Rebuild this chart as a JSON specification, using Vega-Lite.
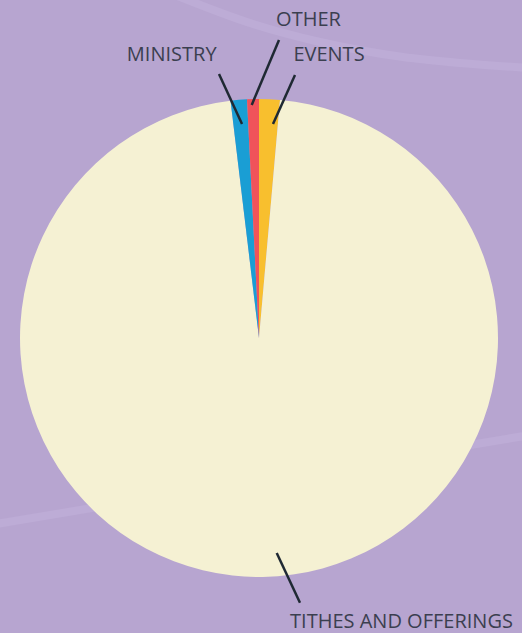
{
  "$schema": "https://vega.github.io/schema/vega-lite/v6.json",
  "width": 522,
  "height": 633,
  "padding": 0,
  "autosize": {"type": "none"},
  "background": "#b7a5d0",
  "config": {"view": {"stroke": null}},
  "datasets": {
    "slices": [
      {"category": "EVENTS", "value": 1.4, "ord": 1},
      {"category": "TITHES AND OFFERINGS", "value": 96.7, "ord": 2},
      {"category": "MINISTRY", "value": 1.1, "ord": 3},
      {"category": "OTHER", "value": 0.8, "ord": 4}
    ],
    "bands": [
      {"band": "top", "i": 1, "bx": -0.3515, "by": 1.4351},
      {"band": "top", "i": 2, "bx": -0.0251, "by": 1.3138},
      {"band": "top", "i": 3, "bx": 0.2552, "by": 1.2385},
      {"band": "top", "i": 4, "bx": 0.6025, "by": 1.1757},
      {"band": "top", "i": 5, "bx": 0.841, "by": 1.1506},
      {"band": "top", "i": 6, "bx": 1.1339, "by": 1.1297},
      {"band": "bottom", "i": 1, "bx": -1.1255, "by": -0.7824},
      {"band": "bottom", "i": 2, "bx": 1.1339, "by": -0.4059}
    ],
    "leaders": [
      {"category": "MINISTRY", "x1": -0.0711, "y1": 0.8954, "x2": -0.1674, "y2": 1.1046, "lx": -0.3653, "ly": 1.159},
      {"category": "OTHER", "x1": -0.0305, "y1": 0.9749, "x2": 0.0837, "y2": 1.2469, "lx": 0.2071, "ly": 1.3054},
      {"category": "EVENTS", "x1": 0.0586, "y1": 0.8954, "x2": 0.1506, "y2": 1.1004, "lx": 0.2929, "ly": 1.159},
      {"category": "TITHES AND OFFERINGS", "x1": 0.0741, "y1": -0.8996, "x2": 0.1715, "y2": -1.1075, "lx": 0.5962, "ly": -1.2134}
    ]
  },
  "layer": [
    {
      "data": {"name": "bands"},
      "mark": {"type": "line", "interpolate": "monotone", "strokeWidth": 8, "color": "#bdacd6", "clip": true},
      "encoding": {
        "x": {"field": "bx", "type": "quantitative", "scale": {"domain": [-1.0837, 1.1004], "nice": false, "zero": false}, "axis": null},
        "y": {"field": "by", "type": "quantitative", "scale": {"domain": [-1.2343, 1.4142], "nice": false, "zero": false}, "axis": null},
        "detail": {"field": "band"},
        "order": {"field": "i", "type": "quantitative"}
      }
    },
    {
      "data": {"name": "slices"},
      "mark": {"type": "arc", "outerRadius": 239},
      "encoding": {
        "x": {"datum": 0, "type": "quantitative"},
        "y": {"datum": 0, "type": "quantitative"},
        "theta": {"field": "value", "type": "quantitative", "stack": true},
        "order": {"field": "ord", "type": "quantitative"},
        "color": {
          "field": "category",
          "type": "nominal",
          "scale": {"domain": ["EVENTS", "TITHES AND OFFERINGS", "MINISTRY", "OTHER"], "range": ["#f8bf2e", "#f5f1d3", "#1a9ed4", "#f0535a"]},
          "legend": null
        }
      }
    },
    {
      "data": {"name": "leaders"},
      "mark": {"type": "rule", "strokeWidth": 2.5, "color": "#1f2933"},
      "encoding": {
        "x": {"field": "x1", "type": "quantitative"},
        "y": {"field": "y1", "type": "quantitative"},
        "x2": {"field": "x2"},
        "y2": {"field": "y2"}
      }
    },
    {
      "data": {"name": "leaders"},
      "mark": {"type": "text", "font": "Open Sans", "fontSize": 20, "color": "#3b3f4f", "align": "center", "baseline": "alphabetic"},
      "encoding": {
        "x": {"field": "lx", "type": "quantitative"},
        "y": {"field": "ly", "type": "quantitative"},
        "text": {"field": "category"}
      }
    }
  ]
}
